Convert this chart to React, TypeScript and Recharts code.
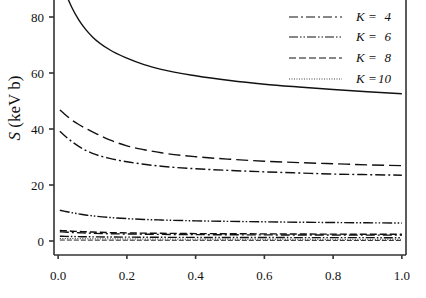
import React from 'react'
import {LineChart, Line, XAxis, YAxis, Legend, ReferenceLine} from 'recharts'

// x positions (Gamma) and curve values
const xs = [0.005, 0.02, 0.04, 0.06, 0.08, 0.1, 0.15, 0.2, 0.25, 0.3, 0.4, 0.5, 0.6, 0.7, 0.8, 0.9, 1.0]
const k2 = [95, 89.2, 83.4, 79, 75.6, 72.9, 68.3, 65.3, 63, 61.3, 59, 57.3, 56, 55, 54.1, 53.3, 52.6]
const k8 = [46.8, 45.2, 43.2, 41.6, 40.2, 39, 36.1, 34, 32.6, 31.5, 30.1, 29.2, 28.5, 28, 27.6, 27.2, 26.9]
const k4 = [39.2, 37.5, 35.5, 33.8, 32.4, 31.3, 29.5, 28.3, 27.4, 26.7, 25.8, 25.2, 24.7, 24.3, 23.9, 23.7, 23.5]
const k6 = [11, 10.6, 10.1, 9.7, 9.3, 9, 8.4, 8, 7.7, 7.5, 7.2, 7, 6.85, 6.7, 6.6, 6.5, 6.4]
const k8low = [3.8, 3.7, 3.5, 3.4, 3.3, 3.2, 3, 2.9, 2.8, 2.75, 2.65, 2.6, 2.55, 2.5, 2.45, 2.42, 2.4]
const k4low = [3.3, 3.2, 3.05, 2.95, 2.85, 2.75, 2.6, 2.5, 2.42, 2.36, 2.28, 2.22, 2.18, 2.15, 2.12, 2.1, 2.08]
const k6low = [1.7, 1.66, 1.6, 1.56, 1.52, 1.48, 1.42, 1.38, 1.34, 1.32, 1.28, 1.25, 1.23, 1.22, 1.2, 1.19, 1.18]
const k10 = [0.9, 0.88, 0.85, 0.83, 0.8, 0.78, 0.75, 0.72, 0.7, 0.69, 0.67, 0.65, 0.64, 0.63, 0.62, 0.61, 0.6]
const k10low = [0.35, 0.34, 0.33, 0.32, 0.31, 0.3, 0.29, 0.28, 0.27, 0.26, 0.25, 0.24, 0.23, 0.22, 0.21, 0.2, 0.2]

const xTicks = [0, 0.2, 0.4, 0.6, 0.8, 1.0]
const yTicks = [0, 20, 40, 60, 80, 100]

const legendItems = [
  {label: '2', dash: ''},
  {label: '4', dash: '9 3 2 3'},
  {label: '6', dash: '9 2 1.5 2 1.5 2'},
  {label: '8', dash: '7 3'},
  {label: '10', dash: '1 1.5'},
]

const data = xs.map((x, i) => ({
  x, k2: k2[i], k8: k8[i], k4: k4[i], k6: k6[i],
  k8low: k8low[i], k4low: k4low[i], k6low: k6low[i], k10: k10[i], k10low: k10low[i],
}))

const serif = '"Liberation Serif", "Times New Roman", serif'
const ink = '#111'

const LegendBox = () => (
  <div style={{fontFamily: serif, fontStyle: 'italic', fontSize: 13, color: ink}}>
    {legendItems.map(it => (
      <div key={it.label} style={{display: 'flex', alignItems: 'center', height: 20.7}}>
        <svg width={53} height={4} style={{display: 'block'}}>
          <line x1={0} y1={2} x2={53} y2={2} stroke={ink} strokeWidth={it.label === '10' ? 0.8 : 1.2} strokeDasharray={it.dash || undefined} />
        </svg>
        <div style={{marginLeft: 14, width: 35, display: 'flex', justifyContent: 'space-between'}}>
          <span>K =</span><span>{it.label}</span>
        </div>
      </div>
    ))}
  </div>
)

const YLabel = ({viewBox}: any) => {
  const cy = viewBox.y + viewBox.height / 2
  return (
    <text x={14} y={cy} transform={`rotate(-90 14 ${cy})`} textAnchor="middle" dominantBaseline="central"
      fontFamily={serif} fontSize={17} fill={ink}>
      <tspan fontStyle="italic">S</tspan> (keV b)
    </text>
  )
}

const App = () => {
  const lineProps = {type: 'monotone' as const, dot: false, isAnimationActive: false, stroke: ink, strokeWidth: 1.4}
  return (
    <div style={{position: 'fixed', left: 0, top: 0, width: 426, height: 298, overflow: 'hidden', background: '#fff'}}>
      <div style={{position: 'absolute', left: 0, top: -39}}>
        <LineChart width={426} height={354} data={data} margin={{top: 0, right: 20, bottom: 5, left: 0}}>
          <XAxis dataKey="x" type="number" domain={[-0.012, 1.012]} ticks={xTicks} allowDataOverflow
            tickFormatter={(v: number) => v.toFixed(1)} tickSize={4} tickMargin={12} height={55}
            stroke="#333" strokeWidth={1.6}
            tick={{fill: ink, fontSize: 13, fontFamily: serif}}
            label={{value: 'Γ (GeV)', position: 'insideBottom', offset: 0, fill: ink, fontSize: 15, fontFamily: serif}} />
          <YAxis type="number" domain={[-5, 100]} ticks={yTicks} allowDataOverflow width={54}
            tickSize={5} tickMargin={5} stroke="#333" strokeWidth={1.6}
            tick={{fill: ink, fontSize: 13, fontFamily: serif}}
            label={<YLabel />} />
          <ReferenceLine x={1.012} stroke="#333" strokeWidth={1.6} />
          <Legend layout="vertical" align="center" verticalAlign="middle" content={() => <LegendBox />}
            wrapperStyle={{position: 'absolute', left: 289, top: 24.6, width: 130}} />
          <Line dataKey="k2" {...lineProps} />
          <Line dataKey="k8" {...lineProps} strokeDasharray="12 5" />
          <Line dataKey="k4" {...lineProps} strokeDasharray="10 3 2 3" />
          <Line dataKey="k6" {...lineProps} strokeDasharray="10 2 1.5 2 1.5 2" />
          <Line dataKey="k8low" {...lineProps} strokeDasharray="7 3" />
          <Line dataKey="k4low" {...lineProps} strokeDasharray="9 3 2 3" />
          <Line dataKey="k6low" {...lineProps} strokeDasharray="9 2 1.5 2 1.5 2" />
          <Line dataKey="k10" {...lineProps} strokeWidth={0.9} strokeDasharray="1 1.5" />
          <Line dataKey="k10low" {...lineProps} strokeWidth={0.9} strokeDasharray="5 2" />
        </LineChart>
      </div>
    </div>
  )
}

export default App
